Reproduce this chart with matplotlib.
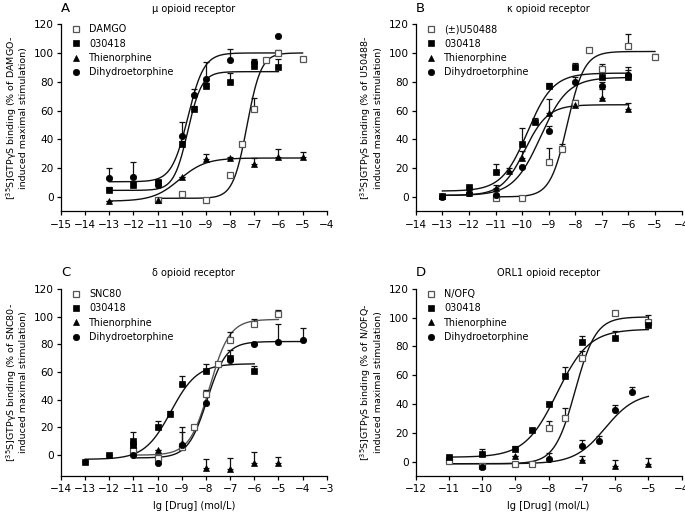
import numpy as np
import matplotlib
matplotlib.use("Agg")
import matplotlib.pyplot as plt

plt.rcParams['font.family'] = ['DejaVu Sans']

compounds = ["030418", "Thienorphine", "Dihydroetorphine"]

# ---------------- Panel A (mu) ----------------
A_ref_name = "DAMGO"
A_ref_x = [-11, -10, -9, -8, -7.5, -7, -6.5, -6, -5]
A_ref_y = [-2, 2, -2, 15, 37, 61, 95, 100, 96]
A_ref_e = [0, 0, 0, 0, 0, 8, 0, 2, 0]
A_c1_x = [-13, -12, -11, -10, -9.5, -9, -8, -7, -6]
A_c1_y = [5, 8, 10, 37, 61, 77, 80, 91, 90]
A_c1_e = [2, 2, 2, 2, 2, 2, 6, 3, 6]
A_c2_x = [-13, -11, -10, -9, -8, -7, -6, -5]
A_c2_y = [-3, -2, 14, 26, 27, 23, 28, 28]
A_c2_e = [0, 0, 0, 4, 1, 4, 5, 3]
A_c3_x = [-13, -12, -11, -10, -9.5, -9, -8, -7, -6]
A_c3_y = [13, 14, 8, 42, 71, 82, 95, 94, 112]
A_c3_e = [7, 10, 3, 10, 4, 12, 8, 2, 0]
# fits: bottom, top, logEC50, hill, x-start, x-end
A_fit_ref = [-1, 100, -7.3, 1.5, -11, -5]
A_fit_c1 = [4.5, 87, -9.75, 1.5, -13, -6]
A_fit_c2 = [-3, 27, -10.1, 0.8, -13, -5]
A_fit_c3 = [10.5, 100, -9.75, 1.3, -13, -6]

# ---------------- Panel B (kappa) ----------------
B_ref_name = "(\u00b1)U50488"
B_ref_x = [-11, -10, -9, -8.5, -8, -7.5, -7, -6, -5]
B_ref_y = [-1, -1, 24, 33, 65, 102, 89, 105, 97]
B_ref_e = [0, 0, 10, 4, 0, 0, 3, 8, 2]
B_c1_x = [-13, -12, -11, -10, -9.5, -9, -8, -7, -6]
B_c1_y = [0.5, 7, 17, 37, 52, 77, 90, 83, 83]
B_c1_e = [0, 0, 6, 11, 3, 2, 3, 4, 7]
B_c2_x = [-13, -12, -11, -10.5, -10, -9, -8, -7, -6]
B_c2_y = [0.5, 3, 6, 18, 27, 58, 64, 69, 61]
B_c2_e = [0, 0, 2, 2, 5, 10, 3, 6, 4]
B_c3_x = [-13, -12, -11, -10, -9, -8, -7, -6]
B_c3_y = [0, 3, 1, 21, 46, 80, 77, 85]
B_c3_e = [0, 0, 0, 0, 3, 3, 3, 3]
B_fit_ref = [0, 101, -8.3, 1.35, -11, -5]
B_fit_c1 = [4, 86, -9.8, 0.9, -13, -6]
B_fit_c2 = [1, 64, -9.9, 1.0, -13, -6]
B_fit_c3 = [1, 83, -9.3, 0.85, -13, -6]

# ---------------- Panel C (delta) ----------------
C_ref_name = "SNC80"
C_ref_x = [-11, -10, -9, -8.5, -8, -7.5, -7, -6, -5]
C_ref_y = [4, -2, 6, 20, 44, 66, 83, 95, 102]
C_ref_e = [0, 0, 0, 0, 3, 0, 6, 3, 3]
C_c1_x = [-13, -12, -11, -11, -10, -9.5, -9, -8, -7, -6]
C_c1_y = [-5, 0, 7, 10, 20, 30, 51, 61, 70, 61]
C_c1_e = [0, 0, 0, 7, 5, 2, 6, 5, 6, 3]
C_c2_x = [-10, -9, -8, -7, -6, -5]
C_c2_y = [4, 9, -9, -10, -6, -6]
C_c2_e = [0, 11, 6, 8, 8, 5]
C_c3_x = [-11, -10, -9, -8, -7, -6, -5, -4]
C_c3_y = [0, -6, 7, 38, 69, 80, 82, 83]
C_c3_e = [0, 0, 10, 0, 0, 0, 13, 9]
C_fit_ref = [0, 98, -7.85, 1.05, -11, -5]
C_fit_c1 = [-3, 66, -9.45, 0.8, -13, -6]
C_fit_c3 = [-2, 82, -7.95, 1.1, -11, -4]

# ---------------- Panel D (ORL1) ----------------
D_ref_name = "N/OFQ"
D_ref_x = [-11, -10, -9, -8.5, -8, -7.5, -7, -6, -5]
D_ref_y = [0.7, -3, -1.6, -1.6, 23, 30, 72, 103, 97]
D_ref_e = [0, 0, 0, 0, 5, 7, 5, 0, 5]
D_c1_x = [-11, -10, -9, -8.5, -8, -7.5, -7, -6, -5]
D_c1_y = [3.5, 5, 9, 22, 40, 59.5, 83, 86, 95]
D_c1_e = [0, 4, 2, 0, 0, 6, 4, 5, 0]
D_c2_x = [-9, -7, -6, -5]
D_c2_y = [4, 1, -3, -1.6]
D_c2_e = [0, 3, 4, 4]
D_c3_x = [-10, -8, -7, -6.5, -6, -5.5]
D_c3_y = [-3.5, 2, 11, 14, 36, 48]
D_c3_e = [0, 4, 4, 4, 3, 4]
D_fit_ref = [-1.5, 100.5, -7.2, 1.4, -11, -5]
D_fit_c1 = [3, 92, -7.75, 0.9, -11, -5]
D_fit_c3 = [-1.5, 48, -6.3, 0.95, -11, -5]

def logistic(p):
    b, t, ec, h, x0, x1 = p
    x = np.linspace(x0, x1, 300)
    return x, b + (t - b) / (1 + 10 ** ((ec - x) * h))

fig = plt.figure(figsize=(6.85, 5.14), dpi=100)

panels = [
    dict(pos=[0.089, 0.589, 0.388, 0.364], letter="A", title="\u03bc opioid receptor",
         ref=A_ref_name, data=[(A_ref_x, A_ref_y, A_ref_e), (A_c1_x, A_c1_y, A_c1_e),
                               (A_c2_x, A_c2_y, A_c2_e), (A_c3_x, A_c3_y, A_c3_e)],
         fits=[A_fit_ref, A_fit_c1, A_fit_c2, A_fit_c3], xlim=(-15, -4), ylim=(-10, 120),
         ylab="DAMGO", xlabel=False),
    dict(pos=[0.607, 0.589, 0.388, 0.364], letter="B", title="\u03ba opioid receptor",
         ref=B_ref_name, data=[(B_ref_x, B_ref_y, B_ref_e), (B_c1_x, B_c1_y, B_c1_e),
                               (B_c2_x, B_c2_y, B_c2_e), (B_c3_x, B_c3_y, B_c3_e)],
         fits=[B_fit_ref, B_fit_c1, B_fit_c2, B_fit_c3], xlim=(-14, -4), ylim=(-10, 120),
         ylab="U50488", xlabel=False),
    dict(pos=[0.089, 0.074, 0.388, 0.364], letter="C", title="\u03b4 opioid receptor",
         ref=C_ref_name, data=[(C_ref_x, C_ref_y, C_ref_e), (C_c1_x, C_c1_y, C_c1_e),
                               (C_c2_x, C_c2_y, C_c2_e), (C_c3_x, C_c3_y, C_c3_e)],
         fits=[C_fit_ref, C_fit_c1, None, C_fit_c3], xlim=(-14, -3), ylim=(-15, 120),
         ylab="SNC80", xlabel=True),
    dict(pos=[0.607, 0.074, 0.388, 0.364], letter="D", title="ORL1 opioid receptor",
         ref=D_ref_name, data=[(D_ref_x, D_ref_y, D_ref_e), (D_c1_x, D_c1_y, D_c1_e),
                               (D_c2_x, D_c2_y, D_c2_e), (D_c3_x, D_c3_y, D_c3_e)],
         fits=[D_fit_ref, D_fit_c1, None, D_fit_c3], xlim=(-12, -4), ylim=(-10, 120),
         ylab="N/OFQ", xlabel=True),
]

markers = ['s', 's', '^', 'o']
for P in panels:
    ax = fig.add_axes(P['pos'])
    labels = [P['ref']] + compounds
    handles = []
    for i, (x, y, e) in enumerate(P['data']):
        fit = P['fits'][i]
        if fit is not None:
            fx, fy = logistic(fit)
            ax.plot(fx, fy, color='#555555' if (i == 0 and P['letter'] == 'C') else '#111111',
                    lw=1.0, zorder=2)
        e = np.asarray(e, float)
        ax.errorbar(x, y, yerr=[np.zeros_like(e), e], fmt='none', ecolor='#111111',
                    elinewidth=0.9, capsize=2.2, capthick=0.9, zorder=3)
        if i == 0:
            h, = ax.plot(x, y, linestyle='none', marker='s', ms=4.2, mfc='white',
                         mec='#555555', mew=0.9, zorder=4)
        else:
            h, = ax.plot(x, y, linestyle='none', marker=markers[i],
                         ms=4.6 if markers[i] != 's' else 4.3, mfc='black', mec='black',
                         mew=0.5, zorder=4)
        handles.append(h)
    ax.legend(handles, labels, loc='upper left', bbox_to_anchor=(0.02, 1.03), frameon=False,
              fontsize=6.9, handlelength=0.8, handletextpad=1.0, labelspacing=0.45,
              borderaxespad=0.2)
    ax.set_xlim(*P['xlim'])
    ax.set_ylim(*P['ylim'])
    ax.set_xticks(np.arange(P['xlim'][0], P['xlim'][1] + 1, 1))
    ax.set_yticks(np.arange(0, 121, 20))
    for s in ['top', 'right']:
        ax.spines[s].set_visible(False)
    for s in ['left', 'bottom']:
        ax.spines[s].set_linewidth(0.9)
    ax.tick_params(direction='out', length=3, width=0.9, labelsize=7.6, pad=2)
    ax.tick_params(axis='x', pad=3)
    ax.set_ylabel("[$^{35}$S]GTP\u03b3S binding (% of " + P['ylab'] +
                  "-\ninduced maximal stimulation)", fontsize=6.8, labelpad=4,
                  linespacing=1.1)
    if P['xlabel']:
        ax.set_xlabel("lg [Drug] (mol/L)", fontsize=7.1, labelpad=5)
    ax.set_title(P['title'], fontsize=7.0, pad=9)
    ax.text(0.0, 1.085, P['letter'], transform=ax.transAxes, fontsize=9.5,
            ha='left', va='center')

fig.savefig("out.png", dpi=100)
